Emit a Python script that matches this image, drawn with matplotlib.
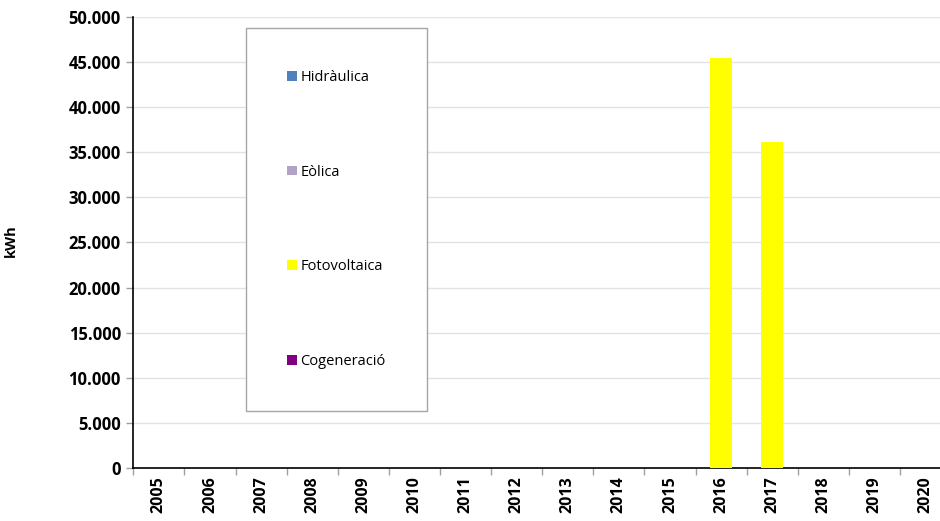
import matplotlib
matplotlib.use('Agg')
import matplotlib.pyplot as plt
import matplotlib.ticker as mticker
from matplotlib.patches import Patch
import numpy as np

plt.rcParams['font.family'] = ['Open Sans', 'DejaVu Sans']

# Yearly production (kWh) per source
years = [str(y) for y in range(2005, 2021)]
hidraulica = [0] * 16
eolica = [0] * 16
fotovoltaica = [0, 0, 0, 0, 0, 0, 0, 0, 0, 0, 0, 45450, 36100, 0, 0, 0]
cogeneracio = [0] * 16

series = [
    ('Hidràulica', hidraulica, '#4f81bd'),
    ('Eòlica', eolica, '#b3a2c7'),
    ('Fotovoltaica', fotovoltaica, '#ffff00'),
    ('Cogeneració', cogeneracio, '#800080'),
]

fig = plt.figure(figsize=(9.4, 5.21), dpi=100)
ax = fig.add_axes([0.1418, 0.1017, 0.870, 0.8657])

x = np.arange(len(years))
bottom = np.zeros(len(years))
for name, vals, color in series:
    vals = np.array(vals, dtype=float)
    ax.bar(x, vals, width=0.42, bottom=bottom, color=color, label=name, zorder=3)
    bottom += vals

ax.set_xlim(-0.5, len(years) - 0.5)
ax.set_ylim(0, 50000)
ax.yaxis.set_major_locator(mticker.MultipleLocator(5000))
ax.yaxis.set_major_formatter(mticker.FuncFormatter(lambda v, p: f'{int(v):,}'.replace(',', '.')))
ax.grid(axis='y', color='#e3e3e3', linewidth=1, zorder=0)
ax.set_axisbelow(True)

ax.set_xticks(x)
ax.set_xticklabels(years, rotation=90, fontweight='bold', fontsize=11.5)
ax.set_xticks(np.arange(-0.5, len(years)), minor=True)
ax.tick_params(axis='x', which='major', length=0, pad=6)
ax.tick_params(axis='x', which='minor', length=5, color='#a0a0a0', width=1)
ax.tick_params(axis='y', length=5, color='#a0a0a0', width=1, pad=4)
for lbl in ax.get_yticklabels():
    lbl.set_fontweight('bold')
    lbl.set_fontsize(12)

for s in ['top', 'right']:
    ax.spines[s].set_visible(False)
for s in ['left', 'bottom']:
    ax.spines[s].set_color('black')
    ax.spines[s].set_linewidth(1.2)

ax.set_ylabel('kWh', fontweight='bold', fontsize=10.5)
ax.yaxis.set_label_coords(-0.141, 0.505)

handles = [Patch(facecolor=c, edgecolor='none') for _, _, c in series]
labels = [n for n, _, _ in series]
leg = ax.legend(handles, labels, loc='upper left',
                bbox_to_anchor=(245.7 / 940, 1 - 28.3 / 521), bbox_transform=fig.transFigure,
                fontsize=10.5, frameon=True, fancybox=False, framealpha=1,
                edgecolor='#a6a6a6', borderpad=2.85, labelspacing=5.47,
                handlelength=0.65, handleheight=0.65, handletextpad=0.25,
                borderaxespad=0)
leg.get_frame().set_linewidth(1)

fig.savefig('out.png', dpi=100)
